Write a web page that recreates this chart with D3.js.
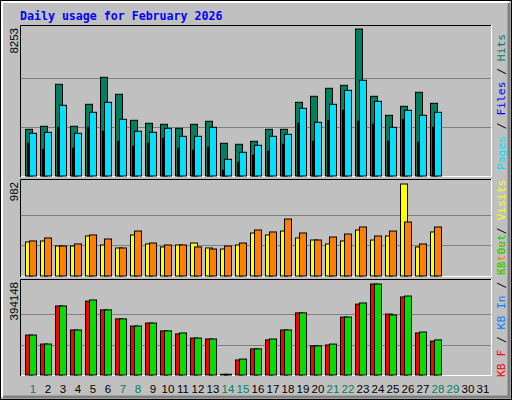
<!DOCTYPE html>
<html><head><meta charset="utf-8">
<script src="https://cdn.jsdelivr.net/npm/d3@7"></script>
<style>body{margin:0;background:#fff}</style>
</head><body>
<script>
const days = d3.range(1, 32);
const weekends = [1, 7, 8, 14, 15, 21, 22, 28, 29];

const hits  = [2622,2790,5148,2790,4025,5541,4587,3127,2959,2902,2678,2902,3071,1836,1780,1948,2622,2622,4138,4474,4924,5092,8253,4474,3408,3913,4699,4081];
const files = [2397,2453,3969,2397,3576,4138,3183,2510,2453,2678,2229,2229,2734,938,1331,1724,2229,2341,3801,3015,4025,4811,5373,4194,2734,3689,3408,3576];
const pages = [1836,1499,2734,1555,2734,2510,1948,1667,1836,2117,1555,1443,1611,320,769,1162,1387,1780,2959,1948,3127,3689,3071,2902,1948,3183,1892,2734];

const visits = [363,374,320,320,427,331,299,438,342,310,331,352,299,288,331,459,438,480,406,384,342,374,491,384,427,982,310,470];
const sites  = [374,406,320,342,438,395,299,480,352,331,331,310,288,320,352,491,470,608,459,384,416,448,523,427,480,576,342,523];

const kbF   = [173000,134000,299000,195000,320000,282000,243000,212000,225000,191000,178000,160000,156000,3000,65000,113000,152000,195000,269000,126000,130000,251000,307000,394148,264000,338000,182000,147000];
const kbOut = [173000,134000,299000,195000,325000,282000,243000,212000,225000,191000,182000,160000,156000,3000,69000,113000,156000,195000,269000,126000,134000,251000,312000,394148,260000,342000,186000,152000];

const W = 512, H = 400;
const svg = d3.select('body').append('svg').attr('width', W).attr('height', H);

// background + bevel
svg.append('rect').attr('x', 0.5).attr('y', 0.5).attr('width', W - 1).attr('height', H - 1)
  .attr('fill', '#c0c0c0').attr('stroke', '#000');
svg.append('path').attr('d', `M2,${H-3} V2 H${W-3}`).attr('fill', 'none').attr('stroke', '#fff').attr('stroke-width', 2);
svg.append('path').attr('d', `M3,${H-3} H${W-3} V3`).attr('fill', 'none').attr('stroke', '#808080').attr('stroke-width', 3);

svg.append('text').attr('x', 20).attr('y', 20).text('Daily usage for February 2026')
  .attr('font-family', 'DejaVu Sans Mono').attr('font-weight', 'bold').attr('font-size', 11.6).attr('fill', '#0000ff');

const x = d3.scaleLinear().domain([1, 31]).range([33, 483]);

function panel(y0, y1, hpx, max, label) {
  svg.append('path').attr('d', `M20.5,${y1} V${y0 + 0.5} H491`).attr('fill', 'none').attr('stroke', '#000');
  svg.append('path').attr('d', `M21,${y1 - 0.5} H491.5 V${y0}`).attr('fill', 'none').attr('stroke', '#fff');
  const y = d3.scaleLinear().domain([0, max]).range([y1 - 1, y1 - 1 - hpx]);
  [max / 3, 2 * max / 3].forEach(v => {
    svg.append('line').attr('x1', 21).attr('x2', 491).attr('y1', Math.round(y(v)) + 0.5).attr('y2', Math.round(y(v)) + 0.5)
      .attr('stroke', '#808080');
  });
  svg.append('text').attr('transform', `translate(18,${y0 + 3}) rotate(-90)`).attr('text-anchor', 'end')
    .attr('font-family', 'Liberation Sans').attr('font-size', 11.5).attr('fill', '#000').text(label);
  return y;
}

function bars(data, y, dx0, w, color) {
  svg.append('g').selectAll('rect').data(data).join('rect')
    .attr('x', (d, i) => x(i + 1) + dx0)
    .attr('y', d => y(d))
    .attr('width', w)
    .attr('height', d => Math.max(0, y(0) - y(d)))
    .attr('fill', color).attr('stroke', '#000').attr('stroke-width', 1);
}

const y1 = panel(25, 177, 147, 8253, '8253');
bars(hits, y1, -7.5, 7, '#008060');
bars(files, y1, -3.5, 7, '#00e0ff');
bars(pages, y1, -5.5, 1, '#0000ff');

const y2 = panel(179, 277, 92, 982, '982');
bars(visits, y2, -7.5, 7, '#ffff00');
bars(sites, y2, -3.5, 7, '#ff8000');

const y3 = panel(279, 376, 91, 394148, '394148');
bars(kbF, y3, -7.5, 7, '#ff0000');
bars(kbOut, y3, -3.5, 7, '#00e000');

// day labels
svg.append('g').selectAll('text').data(days).join('text')
  .attr('x', d => x(d)).attr('y', 393).attr('text-anchor', 'middle')
  .attr('font-family', 'Liberation Sans').attr('font-size', 11.5)
  .attr('fill', d => weekends.includes(d) ? '#008060' : '#000').text(d => d);

// right legends
function legend(yBottom, parts) {
  const t = svg.append('text').attr('transform', `translate(505,${yBottom}) rotate(-90)`)
    .attr('font-family', 'DejaVu Sans Mono').attr('font-size', 11.3);
  parts.forEach(([s, c]) => t.append('tspan').attr('fill', c).text(s));
}
const sep = ' / ';
legend(170, [['Pages', '#00e0ff'], [sep, '#000'], ['Files', '#0000ff'], [sep, '#000'], ['Hits', '#008060']]);
legend(275, [['Sites', '#ff8000'], [sep, '#000'], ['Visits', '#ffff00']]);
legend(377, [['KB F', '#ff0000'], [sep, '#000'], ['KB In', '#0080ff'], [sep, '#000'], ['KB Out', '#00e000']]);
</script>
</body></html>
